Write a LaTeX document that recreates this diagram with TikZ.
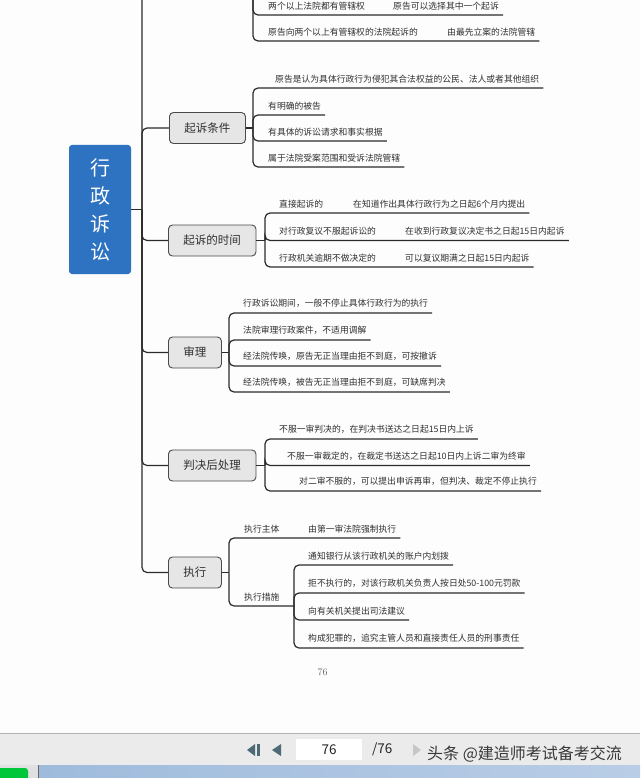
\documentclass[tikz,border=0pt]{standalone}
\usepackage{fontspec}
\newfontfamily\cjk{Noto Sans CJK SC}
\definecolor{rootblue}{HTML}{2D73C1}
\definecolor{boxfill}{HTML}{E6E6E6}
\definecolor{boxline}{HTML}{4A4A4A}
\definecolor{linec}{HTML}{2B2B2B}
\definecolor{leafc}{HTML}{303030}
\definecolor{pagebg}{HTML}{FDFDFD}
\definecolor{barbg}{HTML}{EBEBEB}
\definecolor{navc}{HTML}{4E6A77}
\definecolor{stripl}{HTML}{9FBBDC}
\definecolor{stripr}{HTML}{B9CDE6}
\tikzset{
  conn/.style={draw=linec, line width=1.2pt, rounded corners=5pt},
  rootbox/.style={fill=rootblue, rounded corners=3pt, text=white, align=center,
    font=\cjk\fontsize{20}{28}\selectfont, minimum width=62pt, minimum height=129pt},
  branchbox/.style={draw=boxline, fill=boxfill, rounded corners=4pt, line width=0.9pt,
    font=\cjk\fontsize{11.5}{13}\selectfont, text=leafc, inner xsep=15pt, minimum height=31pt, anchor=west},
  leaf/.style={anchor=south west, inner xsep=0pt, inner ysep=5pt, text=leafc,
    font=\cjk\fontsize{8.8}{10}\selectfont},
}
\begin{document}
\begin{tikzpicture}[x=1pt,y=-1pt]
\useasboundingbox (0,0) rectangle (640,778);
\fill[pagebg] (0,0) rectangle (640,733);

% root and trunk
\node[rootbox] (lawsuit) at (100,209.5) {行\\政\\诉\\讼};
\coordinate (trunktop) at (142,0);
\coordinate (hub) at (142,209.5);
\node[branchbox] (cond) at (169,128) {起诉条件};
\node[branchbox] (time) at (168,240.5) {起诉的时间};
\node[branchbox] (trial) at (168,352.5) {审理};
\node[branchbox] (after) at (168,465.5) {判决后处理};
\node[branchbox] (exec) at (168,572.5) {执行};
\draw[conn] (trunktop) |- (exec.west);
\draw[conn] (lawsuit.east) -- (hub);
\foreach \b in {cond,time,trial,after}
  \draw[conn] (hub) |- (\b.west);

% branch above the page edge
\coordinate (topbrk) at (253,-20);
\node[leaf] (pa1) at (268,15) {两个以上法院都有管辖权};
\node[leaf] (pa2) at (393,15) {原告可以选择其中一个起诉};
\node[leaf] (pb1) at (268,41) {原告向两个以上有管辖权的法院起诉的};
\node[leaf] (pb2) at (447,41) {由最先立案的法院管辖};
\foreach \n in {pa2,pb2}
  \draw[conn] (topbrk) |- ([xshift=4pt]\n.south east);

% 起诉条件
\coordinate (condbrk) at (253,128);
\draw[conn] (cond.east) -- (condbrk);
\node[leaf] (c1) at (275,88) {原告是认为具体行政行为侵犯其合法权益的公民、法人或者其他组织};
\node[leaf] (c2) at (268,115) {有明确的被告};
\node[leaf] (c3) at (268,141) {有具体的诉讼请求和事实根据};
\node[leaf] (c4) at (268,167) {属于法院受案范围和受诉法院管辖};
\foreach \n in {c1,c2,c3,c4}
  \draw[conn] (condbrk) |- ([xshift=4pt]\n.south east);

% 起诉的时间
\coordinate (timebrk) at (265,240.5);
\draw[conn] (time.east) -- (timebrk);
\node[leaf] (t1a) at (279,213) {直接起诉的};
\node[leaf] (t1b) at (353,213) {在知道作出具体行政行为之日起6个月内提出};
\node[leaf] (t2a) at (279,240.5) {对行政复议不服起诉讼的};
\node[leaf] (t2b) at (405,240.5) {在收到行政复议决定书之日起15日内起诉};
\node[leaf] (t3a) at (279,267) {行政机关逾期不做决定的};
\node[leaf] (t3b) at (405,267) {可以复议期满之日起15日内起诉};
\foreach \n in {t1b,t2b,t3b}
  \draw[conn] (timebrk) |- ([xshift=4pt]\n.south east);

% 审理
\coordinate (trialbrk) at (229,352.5);
\draw[conn] (trial.east) -- (trialbrk);
\node[leaf] (r1) at (243,313) {行政诉讼期间，一般不停止具体行政行为的执行};
\node[leaf] (r2) at (243,340) {法院审理行政案件，不适用调解};
\node[leaf] (r3) at (243,366) {经法院传唤，原告无正当理由拒不到庭，可按撤诉};
\node[leaf] (r4) at (243,392) {经法院传唤，被告无正当理由拒不到庭，可缺席判决};
\foreach \n in {r1,r2,r3,r4}
  \draw[conn] (trialbrk) |- ([xshift=4pt]\n.south east);

% 判决后处理
\coordinate (afterbrk) at (265,465.5);
\draw[conn] (after.east) -- (afterbrk);
\node[leaf] (j1) at (279,439) {不服一审判决的，在判决书送达之日起15日内上诉};
\node[leaf] (j2) at (287,465.5) {不服一审裁定的，在裁定书送达之日起10日内上诉二审为终审};
\node[leaf] (j3) at (299,491) {对二审不服的，可以提出申诉再审，但判决、裁定不停止执行};
\foreach \n in {j1,j2,j3}
  \draw[conn] (afterbrk) |- ([xshift=4pt]\n.south east);

% 执行
\coordinate (execbrk) at (229,572.5);
\coordinate (measbrk) at (294,606);
\draw[conn] (exec.east) -- (execbrk);
\node[leaf] (e1a) at (244,538) {执行主体};
\node[leaf] (e1b) at (308,538) {由第一审法院强制执行};
\node[leaf] (e2) at (244,606) {执行措施};
\draw[conn] (execbrk) |- ([xshift=4pt]e1b.south east);
\draw[conn] (execbrk) |- (measbrk);
\node[leaf] (m1) at (308,565) {通知银行从该行政机关的账户内划拨};
\node[leaf] (m2) at (308,593) {拒不执行的，对该行政机关负责人按日处50-100元罚款};
\node[leaf] (m3) at (308,620) {向有关机关提出司法建议};
\node[leaf] (m4) at (308,648) {构成犯罪的，追究主管人员和直接责任人员的刑事责任};
\foreach \n in {m1,m2,m3,m4}
  \draw[conn] (measbrk) |- ([xshift=4pt]\n.south east);

% page number
\node[text=black!60, font=\fontsize{10}{12}\selectfont] (pagenum) at (322.5,672) {76};

% viewer toolbar
\fill[barbg] (0,733) rectangle (640,765);
\draw[black!30, line width=0.8pt] (0,733) -- (640,733);
\fill[navc] (247,750) -- (255,744) -- (255,756) -- cycle;
\fill[navc] (256.5,744) rectangle (259.5,756);
\fill[navc] (272,750) -- (281,744) -- (281,756) -- cycle;
\node[fill=white, minimum width=66pt, minimum height=21pt, inner sep=0pt,
  font=\cjk\fontsize{13.5}{15}\selectfont, text=black!85] (pagefield) at (329,749.5) {76};
\node[anchor=west, inner sep=0pt, font=\cjk\fontsize{13.5}{15}\selectfont, text=black!85] (pagetotal) at (372,749.5) {/76};
\fill[black!22] (421,750) -- (413,744) -- (413,756) -- cycle;
\node[anchor=west, inner sep=0pt, font=\cjk\fontsize{16}{18}\selectfont, text=black!78] (watermark) at (427,754.5) {头条 @建造师考试备考交流};

% task bar strip
\fill[black!12] (0,765) rectangle (39,778);
\fill[left color=stripl, right color=stripr] (39,765) rectangle (640,778);
\fill[green!55!teal, rounded corners=3pt] (-4,768) rectangle (28,784);
\draw[black!60] (38.5,765) -- (38.5,778);
\end{tikzpicture}
\end{document}
